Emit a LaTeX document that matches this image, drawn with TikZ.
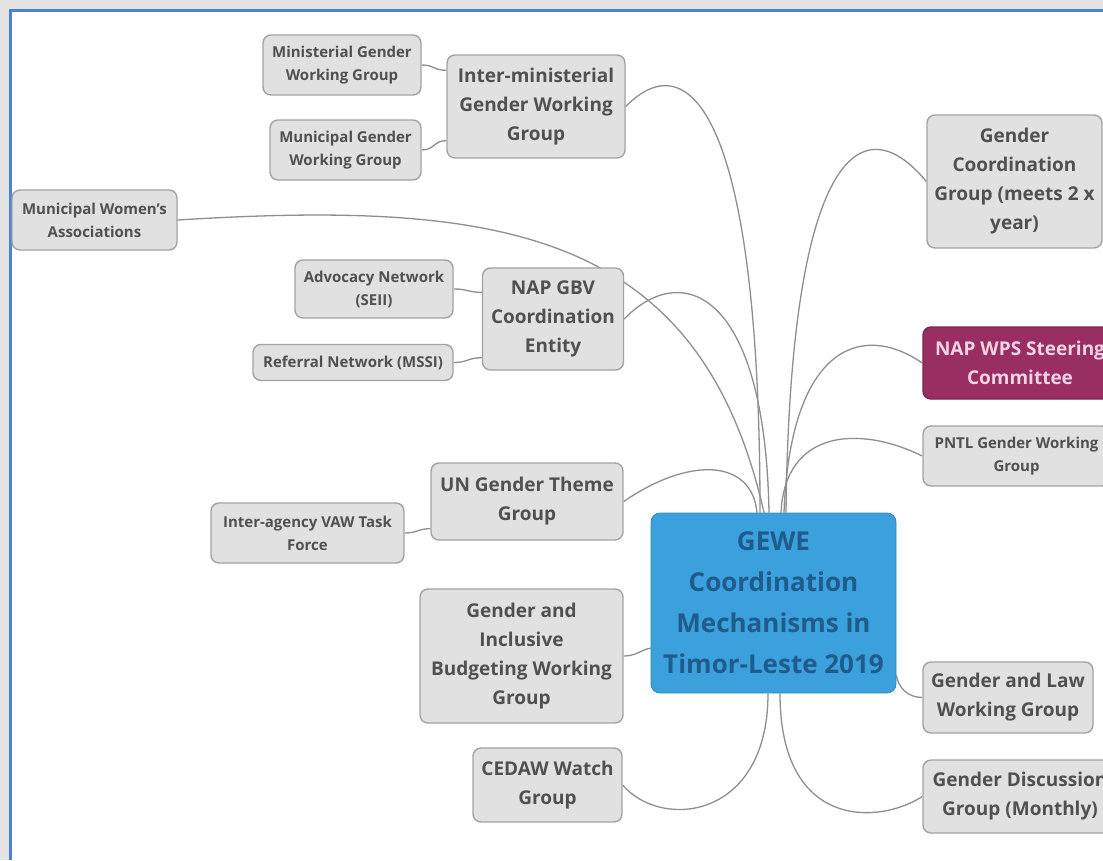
\documentclass[tikz,border=0pt]{standalone}
\usepackage{fontspec}
\setmainfont{Open Sans}
\usetikzlibrary{backgrounds}

\definecolor{boxfill}{HTML}{E1E1E1}
\definecolor{boxline}{HTML}{A3A3A3}
\definecolor{boxtext}{HTML}{505050}
\definecolor{wirecol}{HTML}{8E8E8E}
\definecolor{hubfill}{HTML}{3CA0DC}
\definecolor{hubtext}{HTML}{1F5C8C}
\definecolor{wpsfill}{HTML}{982E62}
\definecolor{wpstext}{HTML}{F3D3E3}
\definecolor{framegray}{HTML}{E3E3E3}
\definecolor{frameblue}{HTML}{4D80D6}

\tikzset{
  topic/.style={draw=boxline, line width=1.4pt, fill=boxfill, rounded corners=8pt,
    align=center, text=boxtext, inner sep=0pt,
    font=\bfseries\fontsize{19}{29}\selectfont},
  subtopic/.style={topic, font=\bfseries\fontsize{15}{23}\selectfont},
  hub/.style={fill=hubfill, draw=hubfill!85!black, line width=0.8pt, rounded corners=9pt,
    align=center, text=hubtext, inner sep=0pt,
    font=\bfseries\fontsize{26}{41}\selectfont},
  wpsbox/.style={topic, fill=wpsfill, draw=wpsfill!80!black, text=wpstext},
  wire/.style={draw=wirecol, line width=1.3pt},
  sz/.style 2 args={minimum width=#1pt, minimum height=#2pt},
}

\begin{document}
\begin{tikzpicture}[x=1pt, y=-1pt]
\useasboundingbox (0,0) rectangle (1103,860);
\clip (0,0) rectangle (1103,860);

% window frame
\fill[framegray] (0,0) rectangle (1103,9);
\fill[framegray] (0,0) rectangle (9,860);
\draw[frameblue, line width=2.5pt] (10.5,860) -- (10.5,10.5) -- (1103,10.5);

% central topic
\node[hub, sz={245}{180}] (gew) at (773.5,603)
  {GEWE\\Coordination\\Mechanisms in\\Timor-Leste 2019};

% left branches
\node[topic, sz={178}{103}] (imw) at (536,106.5) {Inter-ministerial\\Gender Working\\Group};
\node[subtopic, sz={158}{60}] (mgw) at (342,65) {Ministerial Gender\\Working Group};
\node[subtopic, sz={151}{60}] (mun) at (345.5,150) {Municipal Gender\\Working Group};
\node[subtopic, sz={165}{60}] (mwa) at (94.5,220) {Municipal Women's\\Associations};
\node[topic, sz={141}{102}] (gbv) at (553,319) {NAP GBV\\Coordination\\Entity};
\node[subtopic, sz={158}{58}] (adv) at (374,289) {Advocacy Network\\(SEII)};
\node[subtopic, sz={200}{36}] (ref) at (353,362.5) {Referral Network (MSSI)};
\node[topic, sz={192}{77}] (ung) at (527,501.5) {UN Gender Theme\\Group};
\node[subtopic, sz={193}{60}] (iav) at (307.5,533) {Inter-agency VAW Task\\Force};
\node[topic, sz={203}{134}] (gib) at (521.5,656) {Gender and\\Inclusive\\Budgeting Working\\Group};
\node[topic, sz={149}{74}] (ced) at (547.5,785) {CEDAW Watch\\Group};

% right branches
\node[topic, sz={175}{133}] (gcg) at (1014.5,181.5) {Gender\\Coordination\\Group (meets 2 x\\year)};
\node[wpsbox, sz={194}{72}] (wps) at (1020,363) {NAP WPS Steering\\Committee};
\node[subtopic, sz={187}{60}] (pntl) at (1016.5,456) {PNTL Gender Working\\Group};
\node[topic, sz={170}{71}] (gla) at (1008,697.5) {Gender and Law\\Working Group};
\node[topic, sz={194}{73}] (gdg) at (1020,796.5) {Gender Discussion\\Group (Monthly)};

\begin{scope}[on background layer]
  % branches into the top of the central topic
  \draw[wire] (imw.east) .. controls +(65,-66) and +(0,-393) .. ([xshift=-13.5pt]gew.north);
  \draw[wire] (mwa.east) .. controls +(323,-20) and +(-64,-283) .. ([xshift=-9.5pt]gew.north);
  \draw[wire] (gbv.east) .. controls +(57,-59) and +(-4,-223) .. ([xshift=-4.5pt]gew.north);
  \draw[wire] (ung.east) .. controls +(67,-46) and +(-5,-53) .. ([xshift=-16.5pt]gew.north);
  \draw[wire] (gcg.west) .. controls +(-67,-81) and +(4,-353) .. ([xshift=12.5pt]gew.north);
  \draw[wire] (wps.west) .. controls +(-63,-43) and +(6,-163) .. ([xshift=10.5pt]gew.north);
  \draw[wire] (pntl.west) .. controls +(-63,-31) and +(4,-83) .. ([xshift=7.5pt]gew.north);
  % branches into the sides and bottom
  \draw[wire] (gib.east) .. controls +(12,0) and +(-12,3) .. ([yshift=-45pt]gew.west);
  \draw[wire] (gla.west) .. controls +(-15,0) and +(2,12) .. ([yshift=18pt]gew.south east);
  \draw[wire] (ced.east) .. controls +(38,45) and +(0,127) .. ([xshift=-5.5pt]gew.south);
  \draw[wire] (gdg.west) .. controls +(-43,28) and +(0,137) .. ([xshift=6.5pt]gew.south);
  % sub-branches
  \draw[wire] (mgw.east) .. controls +(13,0) and +(-13,0) .. ([yshift=-16pt]imw.north west);
  \draw[wire] (mun.east) .. controls +(13,0) and +(-13,0) .. ([yshift=18pt]imw.south west);
  \draw[wire] (adv.east) .. controls +(14,0) and +(-14,0) .. ([yshift=-25pt]gbv.north west);
  \draw[wire] (ref.east) .. controls +(14,0) and +(-14,0) .. ([yshift=13pt]gbv.south west);
  \draw[wire] (iav.east) .. controls +(13,0) and +(-13,0) .. ([yshift=12pt]ung.south west);
\end{scope}
\end{tikzpicture}
\end{document}
